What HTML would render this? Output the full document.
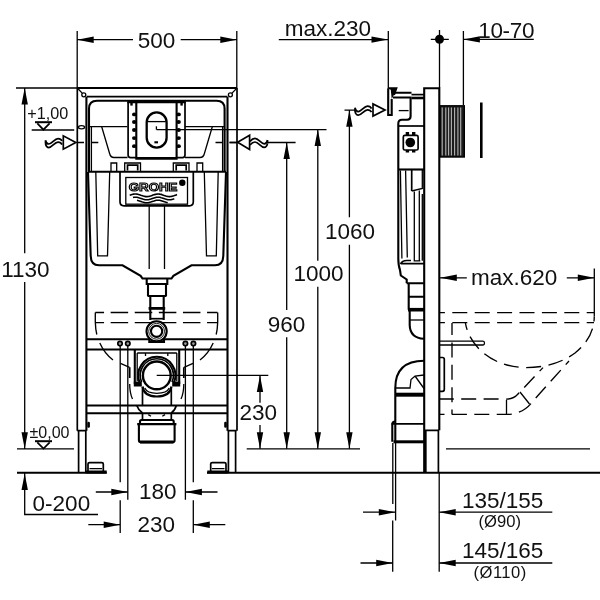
<!DOCTYPE html>
<html><head><meta charset="utf-8"><title>Rapid SL</title>
<style>
html,body{margin:0;padding:0;background:#fff;}
svg{display:block;will-change:transform}
.t{stroke:#000;stroke-width:1.3;fill:none}
.m{stroke:#000;stroke-width:1.7;fill:none}
.k{stroke:#000;stroke-width:2.1;fill:none}
  .d{stroke:#000;stroke-width:1.35;fill:none;stroke-dasharray:15 7.4;stroke-dashoffset:10.1}
.a{fill:#000;stroke:none}
text{font-family:"Liberation Sans",Arial,Helvetica,sans-serif;fill:#111}
</style></head><body>
<svg width="600" height="600" viewBox="0 0 600 600">
<rect width="600" height="600" fill="#fff"/>
<g id="dims-front">
<!-- 500 -->
<path class="t" d="M77.2,31V88M236.8,31V88M77.2,39.7H133M180.7,39.7H236.8"/>
<path class="a" d="M77.2,39.7l16.5,-3.2v6.4zM236.8,39.7l-16.5,-3.2v6.4z"/>
<!-- 1130 -->
<path class="t" d="M16,88H77M24.7,88V253.3M24.7,282V448.8M17,448.8H74"/>
<path class="a" d="M24.7,88l-3.2,16.5h6.4zM24.7,448.8l-3.2,-16.5h6.4z"/>
<!-- +1,00 level -->
<path class="t" d="M31.7,130H74.2"/><path d="M35,122.2H52" stroke="#000" stroke-width="2" fill="none"/><path class="m" d="M37.3,123.3L43.4,129.7L49.6,123.3"/>
<!-- +-0,00 level -->
<path d="M35,441.2H52" stroke="#000" stroke-width="2" fill="none"/><path class="m" d="M37.3,442.3L43.5,448.6L49.7,442.3"/>
<!-- water symbol left -->
<path class="m" d="M63.3,135.8V149.2L75.8,142.5Z"/>
<path class="m" d="M45.5,140.2C46.0,142.5 47.0,144.0 48.8,144.0C52.0,144.0 54.5,138.6 58.0,138.6C60.0,138.6 61.5,139.8 62.0,141.0M45.5,143.8C46.0,146.1 47.0,147.6 48.8,147.6C52.0,147.6 54.5,142.2 58.0,142.2C60.0,142.2 61.5,143.4 62.0,144.6M45.5,140.2V143.8"/>
<!-- water symbol right -->
<path class="m" d="M249.6,135.2V149.4L237.6,142.3Z"/>
<path class="m" d="M267.5,140.0C267.0,142.3 266.0,143.8 264.2,143.8C261.0,143.8 258.5,138.4 255.0,138.4C253.0,138.4 251.5,139.6 250.0,141.4M267.5,143.6C267.0,145.9 266.0,147.4 264.2,147.4C261.0,147.4 258.5,142.0 255.0,142.0C253.0,142.0 251.5,143.2 250.0,145.0M267.5,140.0V143.6"/>
<!-- 960 -->
<path class="t" d="M229.6,142.5H237M268,142.5H295.6M286.7,142.5V310M286.7,337.3V448.8"/>
<path class="a" d="M286.7,142.5l-3.2,16.5h6.4zM286.7,448.8l-3.2,-16.5h6.4z"/>
<!-- 1000 -->
<path class="t" d="M156.5,129.6H326.5M317.8,129.6V260.8M317.8,286.7V448.8"/>
<path class="a" d="M317.8,129.6l-3.2,16.5h6.4zM317.8,448.8l-3.2,-16.5h6.4z"/>
<!-- 1060 -->
<path class="t" d="M344.5,110.2H355M349.4,110.2V217.3M349.4,244.8V448.8"/>
<path class="a" d="M349.4,110.2l-3.2,16.5h6.4zM349.4,448.8l-3.2,-16.5h6.4z"/>
<!-- floor lines -->
<path class="t" d="M246.7,448.8H360"/>
<path class="k" d="M17,472.7H106.7M207,472.7H600"/>
<!-- 230 vertical -->
<path class="t" d="M260,375.4V402.7M260,425V448.8"/>
<path class="a" d="M260,375.4l-3.2,16.5h6.4zM260,448.8l-3.2,-16.5h6.4z"/>
<!-- 0-200 -->
<path class="t" d="M24.7,472.7V514.5H98"/>
<path class="a" d="M24.7,473.4l-3.2,16.5h6.4z"/>
<!-- 180 -->
<path class="t" d="M95.8,492H127.8M185.4,492H217.5"/>
<path class="a" d="M127.8,492l-16.5,-3.2v6.4zM185.4,492l16.5,-3.2v6.4z"/>
<!-- 230 -->
<path class="t" d="M88.3,524.7H120.2M193.3,524.7H225.3"/>
<path class="a" d="M120.2,524.7l-16.5,-3.2v6.4zM193.3,524.7l16.5,-3.2v6.4z"/>
</g>

<g id="front">
<!-- frame -->
<path class="k" d="M77,88H237"/>
<path class="m" d="M77.3,88V430.7M237,88V430.7"/>
<path class="k" d="M86.4,96.7V430.7M227.5,96.7V430.7"/>
<path class="m" d="M86.7,96.7H227.4"/>
<path class="t" d="M77.3,88L82.4,93.4M237,88L231.8,93.4"/>
<circle class="t" cx="83.8" cy="94.8" r="2"/><circle class="t" cx="230.4" cy="94.8" r="2"/>
<ellipse class="t" cx="81.5" cy="127.3" rx="3" ry="1.6"/>
<!-- lower legs -->
<path class="m" d="M78.6,430.7V472M85.8,430.7V472M77.3,430.7H86.7M227.4,430.7H236.7M228.4,430.7V472M235.6,430.7V472"/>
<!-- feet -->
<path class="m" d="M88,471V464Q88,462.6 89.5,462.6H101.8Q103.3,462.6 103.3,464V471M210.7,471V464Q210.7,462.6 212.2,462.6H224.5Q226,462.6 226,464V471"/>
<path class="t" d="M89.5,468.6H102M212,468.6H224.5"/>
<path d="M85.8,471.9H106.7M207.3,471.9H228.4" stroke="#000" stroke-width="3" fill="none"/>
<rect class="a" x="87.3" y="421.7" width="2.6" height="6" rx="1.2"/><rect class="a" x="224.2" y="421.7" width="2.6" height="6" rx="1.2"/>
<!-- upper housing -->
<path class="k" d="M89,172V108.8Q89,100.8 97,100.8H216.6Q224.6,100.8 224.6,108.8V172"/>
<path class="t" d="M91.4,126.7V171.7M222.6,126.7V171.7"/>
<path class="t" d="M89.4,126.7H127.5M185,126.7H224.6"/>
<path class="t" d="M101.7,126.7L109.6,153.5Q110.5,157.5 114,157.5H127.5M212.3,126.7L204.4,153.5Q203.5,157.5 200,157.5H185"/>
<path class="t" d="M77.3,142.5H84M91,142.5H98.3M215.5,142.5H223M229.5,142.5H237"/>
<!-- flush plate -->
<path class="m" d="M128.1,102V155Q128.1,157.6 130.6,157.6H136.2M185,102V155Q185,157.6 182.5,157.6H176.6"/>
<path d="M127.3,101.8H185.8" stroke="#000" stroke-width="2.8" fill="none"/>
<path class="k" d="M136.3,102V158.2M176.6,102V158.2"/>
<path d="M135.3,158.3H177.6" stroke="#000" stroke-width="2.8" fill="none"/>
<g class="a">
<ellipse cx="134.2" cy="114.4" rx="2.2" ry="1.9"/><ellipse cx="178.7" cy="114.4" rx="2.2" ry="1.9"/><ellipse cx="134.2" cy="122" rx="2.2" ry="1.9"/><ellipse cx="178.7" cy="122" rx="2.2" ry="1.9"/><ellipse cx="134.2" cy="130" rx="2.2" ry="1.9"/><ellipse cx="178.7" cy="130" rx="2.2" ry="1.9"/><ellipse cx="134.2" cy="138.1" rx="2.2" ry="1.9"/><ellipse cx="178.7" cy="138.1" rx="2.2" ry="1.9"/><ellipse cx="134.2" cy="146.2" rx="2.2" ry="1.9"/><ellipse cx="178.7" cy="146.2" rx="2.2" ry="1.9"/><rect x="130.3" y="103" width="2.4" height="2.6"/><rect x="180.4" y="103" width="2.4" height="2.6"/>
</g>
<rect x="146.7" y="112.4" width="19.9" height="35.2" rx="9.95" ry="9.95" fill="none" stroke="#000" stroke-width="2.3"/>
<path class="t" d="M147.5,121.6H165.8"/>
<path class="k" d="M154.4,142.3H158"/>
<path class="t" d="M156.4,126.3V129.6"/>
<!-- tabs -->
<path class="t" d="M111,171.7V163H116.7V171.7M124.7,171.7V163H140.5V171.7M173.3,171.7V163H189V171.7M197,171.7V163H202.7V171.7"/>
<path class="m" d="M127.5,170.5V165.2H137.7V170.5M176.2,170.5V165.2H186.2V170.5"/>
<!-- cistern -->
<path class="k" d="M88,171.7H226"/>
<path class="k" d="M88,172L90.7,256Q91,265.3 99,265.3H122.5L140.6,275.8L142.5,278.5H171.5L173.4,275.8L191.5,265.3H215Q223,265.3 223.3,256L226,172"/>
<path class="t" d="M95.8,172L97.7,255.8H107.5L109.7,172M204.3,172L206.5,255.8H216.3L218.2,172"/>
<path class="t" d="M149.2,206V269M164.5,206V269"/>
<!-- logo -->
<path class="m" d="M120,172V201.8Q120,205.8 124,205.8H189.3Q193.3,205.8 193.3,201.8V172"/>
<rect class="t" x="125.8" y="177.5" width="61.7" height="26.7"/>
<circle class="a" cx="182.3" cy="182.7" r="3.2"/>
<text x="128.8" y="191" font-size="11.8" font-weight="bold" textLength="48.6" lengthAdjust="spacingAndGlyphs" style="fill:#fff;stroke:#000;stroke-width:1.1">GROHE</text>
<path d="M129.7,195.3L130.5,195.0L131.3,194.7L132.1,194.5L132.9,194.3L133.7,194.1L134.5,194.0L135.3,194.0L136.1,194.0L136.9,194.1L137.7,194.3L138.5,194.5L139.3,194.7L140.1,195.0L140.9,195.3L141.7,195.5L142.5,195.8L143.3,196.1L144.1,196.3L144.9,196.4L145.7,196.6L146.5,196.6L147.3,196.6L148.1,196.5L148.9,196.4L149.7,196.2L150.5,195.9L151.3,195.7L152.1,195.4L152.9,195.1L153.8,194.8L154.6,194.6L155.4,194.4L156.2,194.2L157.0,194.1L157.8,194.0L158.6,194.0L159.4,194.1L160.2,194.2L161.0,194.4L161.8,194.6L162.6,194.9L163.4,195.2L164.2,195.5L165.0,195.7L165.8,196.0L166.6,196.2L167.4,196.4L168.2,196.5L169.0,196.6L169.8,196.6L170.6,196.5L171.4,196.4L172.2,196.2L173.0,196.0L173.8,195.8L174.6,195.5L175.4,195.2L176.2,194.9L177.0,194.6M133.0,197.5L133.8,197.3L134.6,197.2L135.4,197.2L136.2,197.2L137.0,197.3L137.9,197.5L138.7,197.7L139.5,198.0L140.3,198.2L141.1,198.5L141.9,198.8L142.7,199.1L143.5,199.3L144.3,199.5L145.1,199.7L146.0,199.8L146.8,199.8L147.6,199.8L148.4,199.7L149.2,199.5L150.0,199.3L150.8,199.1L151.6,198.8L152.4,198.5L153.2,198.2L154.1,197.9L154.9,197.7L155.7,197.5L156.5,197.3L157.3,197.2L158.1,197.2L158.9,197.2L159.7,197.3L160.5,197.5L161.3,197.7L162.2,197.9L163.0,198.2L163.8,198.5L164.6,198.8L165.4,199.1L166.2,199.3L167.0,199.5L167.8,199.7L168.6,199.8L169.4,199.8L170.3,199.8L171.1,199.7L171.9,199.5L172.7,199.3L173.5,199.1L174.3,198.8M137.0,200.3L137.8,200.5L138.6,200.7L139.4,200.9L140.2,201.2L141.0,201.5L141.8,201.8L142.7,202.1L143.5,202.3L144.3,202.5L145.1,202.7L145.9,202.8L146.7,202.8L147.5,202.8L148.3,202.7L149.1,202.5L149.9,202.3L150.7,202.1L151.5,201.8L152.3,201.5L153.2,201.2L154.0,201.0L154.8,200.7L155.6,200.5L156.4,200.3L157.2,200.2L158.0,200.2L158.8,200.2L159.6,200.3L160.4,200.5L161.2,200.7L162.0,200.9L162.9,201.2L163.7,201.5L164.5,201.8L165.3,202.0L166.1,202.3L166.9,202.5L167.7,202.7" fill="none" stroke="#000" stroke-width="1.6"/>
<!-- outlet -->
<path class="k" d="M146.7,278.5V284H167.3V278.5M148,284V296M166,284V296M147.5,296H166.5M150.3,296V320M163.7,296V320"/>
<path d="M148.6,308.4H165.2" stroke="#000" stroke-width="2.8" fill="none"/>
<path class="m" d="M150,318.7H164"/>
<!-- dashed bowl -->
<path class="t" d="M95.3,312.5H217.5M95.3,322.6H217.5" stroke-dasharray="17.5 6.6" stroke-dashoffset="8.75" style="stroke-width:1.35"/>
<path class="t" style="stroke-width:1.35" d="M95.3,312.5V322Q95.5,329 96.8,334.5M99.8,343Q104.5,353.5 113,360M217.7,312.5V322Q217.5,329 216.2,334.5M213.2,343Q208.5,353.5 200,360"/>
<!-- crossbar upper -->
<path class="k" d="M86.7,339.2H227.4M86.7,349.5H227.4"/>
<!-- flush pipe circle -->
<circle cx="156.6" cy="331.3" r="10.1" class="k" style="fill:#fff"/>
<circle cx="156.6" cy="331.3" r="7.9" class="t" style="stroke-width:.9"/>
<circle cx="156.6" cy="331.3" r="5.6" class="k"/>
<g style="fill:#999" class="m"><circle cx="120" cy="343.6" r="2.2"/><circle cx="127.8" cy="343.6" r="2.2"/><circle cx="185.4" cy="343.6" r="2.2"/><circle cx="193.4" cy="343.6" r="2.2"/></g>
<path class="t" d="M120.2,346V482.3M120.2,500.3V533M127.8,346V499.8M185.4,346V499.8M193.3,346V482.3M193.3,500.3V533"/>
<path class="k" d="M149.3,338.5V342H164V338.5"/>
<!-- waste bracket -->
<path class="k" d="M134.8,349.5V384M179.2,349.5V384"/>
<path class="t" d="M137.2,353V381M176.8,353V381M137.2,353H176.8M145.5,353V356M167.8,353V356"/>
<circle cx="156.8" cy="375.4" r="19" style="fill:#fff;stroke:none"/>
<path class="k" d="M139.6,382.5A18.6,18.6 0 1 1 174.0,382.5"/>
<path class="m" d="M141.6,382A16.6,16.6 0 1 1 172.0,382"/>
<circle cx="156.8" cy="375.4" r="13.9" class="k" style="stroke-width:2.4"/>
<path class="a" d="M133.8,381.5H141.8V386.6H133.8ZM172.2,381.5H180.2V386.6H172.2Z"/>
<path class="k" d="M142.6,386.5Q144,396.5 156.8,396.5Q170,396.5 171.4,386.5"/>
<path class="t" d="M144.8,388Q147,393.3 156.8,393.3Q167,393.3 169.2,388"/>
<path class="t" d="M156.7,375.4H268.3"/>
<!-- pipe down -->
<path class="m" d="M142.5,387V405.5M171.3,387V405.5M142.5,413.5V420M171.3,413.5V420"/>
<path class="k" d="M86.7,405.5H227.4M86.7,413.3H227.4"/>
<path class="m" d="M136.9,405.8Q138.5,410.5 142.5,413M176.2,405.8Q175,410.5 171.3,413"/>
<path class="t" d="M148.3,414.6L151,416.3M162.3,416.3L165,414.6"/>
<path class="k" d="M140,424V421.5Q140,420 141.5,420H172.2Q173.7,420 173.7,421.5V424"/>
<path d="M137.2,424.2H176.4" stroke="#000" stroke-width="2.2" fill="none"/>
<path class="k" d="M138.9,424.5V440.3Q138.9,442.2 140.8,442.2H172.7Q174.6,442.2 174.6,440.3V424.5"/>
<path d="M140,442H173.5" stroke="#000" stroke-width="2.8" fill="none"/>
<!-- bracket side details -->
<path class="t" d="M120.5,363.3L129.5,367.3M193,363.3L184,367.3"/>
<path class="m" d="M129.7,367.3V378M183.8,367.3V378"/>
<path class="t" d="M129.7,384Q129.7,393 132.5,399M183.8,384Q183.8,393 181,399"/>
</g>

<g id="side">
<!-- frame profile -->
<path class="k" d="M424.2,472V88.2H439.3V430.3"/>
<path class="m" d="M424.2,430.3H439.3M425.8,430.3V472M438.4,430.3V472"/>
<!-- angle valve -->
<path class="k" d="M388.2,88.2V115H391.7V99M388.2,88.2H396.3L394,95"/>
<path class="a" d="M389.5,88.2H396.3L393.6,95.5L391.7,99L390.8,90Z"/>
<path class="k" d="M393,92.8H411.5M393,97.5H411.5"/>
<path class="m" d="M411.5,94.6H424"/>
<path d="M411.5,98H424" stroke="#000" stroke-width="2.6" fill="none"/>
<!-- tank housing -->
<path class="k" d="M410.6,97.5V116.3Q410.6,119.7 407.2,119.7H402Q398.3,119.7 398.3,123.5V259"/>
<path class="t" d="M398.7,110.6H408.6"/>
<path class="m" d="M398.3,126H424"/>
<!-- valve square -->
<rect class="m" x="403.3" y="135.4" width="14.8" height="14.6" rx="1.5"/>
<path class="a" d="M405.7,132h3.4v3.4h-3.4zM412,132h3.4v3.4h-3.4zM405.7,150h3.4v2.6h-3.4zM412,150h3.4v2.6h-3.4z"/>
<circle class="a" cx="410.3" cy="142.5" r="4.8"/>
<!-- cistern side -->
<path class="k" d="M398.3,169.5H424"/>
<path class="t" d="M400.4,170.5L401.9,258.5M405.6,170.5L407.3,257.5M414.3,191.5V260.8H420.3M419.3,190.5V260.8M422.3,170V188.5L411.7,191M422.3,194V260.8"/>
<path class="m" d="M411.7,170V191"/>
<!-- cistern bottom -->
<path class="k" d="M398.3,259Q398.4,266 400,270L400.8,275.5L406.7,279.5V283.3"/>
<path class="m" d="M400.5,264Q402,260.5 407,260.5H411M400.5,263.6H424"/>
<!-- outlet pipe side -->
<path class="k" d="M406.7,283.3H424M408.7,283.3V309.7M408.7,296.7H424"/>
<path d="M408,309.7H424" stroke="#000" stroke-width="3.6" fill="none"/>
<path class="k" d="M409.7,309.7V325Q410,338 424,338.8"/>
<path class="t" d="M409.7,320H424"/>
<!-- waste elbow -->
<path class="k" d="M424,360.8Q395.3,361 395.3,388V442.5"/>
<path d="M395,394.7H424" stroke="#000" stroke-width="4" fill="none"/>
<path class="t" d="M396,388H410L411,379.5L415,376L424,375M415,376L424,388.5"/>
<path class="k" d="M395.3,421.5Q392.3,421.5 392.3,424.5V441.8"/>
<path class="m" d="M391.5,423.8H424"/>
<path d="M393.5,441.8H424" stroke="#000" stroke-width="3" fill="none"/>
<!-- thread -->
<rect x="440" y="105.8" width="24.3" height="51.2" fill="#1c1c1c" stroke="#000" stroke-width="1.4"/>
<path d="M442.2,107.5V155.5M445.8,107.5V155.5M448.6,107.5V155.5M451.4,107.5V155.5M454.6,107.5V155.5M457.9,107.5V155.5M460.7,107.5V155.5" stroke="#b4b4b4" stroke-width="1.1" fill="none"/>
<!-- flush plate side -->
<path d="M481.3,102.5V158" stroke="#000" stroke-width="2.6" fill="none"/>
<!-- bracket right -->
<path class="m" d="M440,357.5H442.5Q444.3,357.5 444.3,359.5V389.3Q444.3,391.3 442.5,391.3H440"/>
<!-- seat hinge -->
<path class="t" d="M440,341.2H483Q484.5,341.2 484.5,343.1Q484.5,345 483,345H440"/>
<!-- bowl dashed -->
<path class="d" d="M440,312.6H594.3M440,322.6H594"/>
<path class="d" d="M594.3,316.5Q594,338 575,353Q555,367.6 526,367.6Q498,367 480,350Q468,338 465.4,323"/>
<path class="d" style="stroke-dashoffset:3" d="M452,323V414.4"/>
<path class="d" d="M543,367.6L518,394Q513,399.6 505,399H440M569,361L533,401Q524,413.7 508,414.4H440"/>
<path class="t" d="M520,392L529.5,404M506.5,400V414"/>
</g>

<g id="dims-side">
<!-- max.230 -->
<path class="t" d="M278.8,39.6H388M388.3,31V88"/>
<path class="a" d="M388,39.6l-16.5,-3.2v6.4z"/>
<!-- water symbol side -->
<path class="m" d="M373,104V116L385,110Z"/>
<path class="m" d="M355.0,107.8C355.5,110.1 356.5,111.6 358.3,111.6C361.5,111.6 364.0,106.2 367.5,106.2C369.5,106.2 371.0,107.4 371.5,108.6M355.0,111.4C355.5,113.7 356.5,115.2 358.3,115.2C361.5,115.2 364.0,109.8 367.5,109.8C369.5,109.8 371.0,111.0 371.5,112.2M355.0,107.8V111.4"/>
<!-- centre symbol -->
<circle class="a" cx="439.5" cy="39.3" r="4.5"/>
<path class="t" d="M430.8,39.3H448.8M439.5,30V88"/>
<!-- 10-70 -->
<path class="t" d="M463.4,31V105M463.4,39.4H533.8"/>
<path class="a" d="M463.4,39.4l16.5,-3.2v6.4z"/>
<!-- max.620 -->
<path class="t" d="M440,277.8H466.8M566.8,277.8H594.3M594.3,268.4V316.6"/>
<path class="a" d="M440.3,277.8l16.5,-3.2v6.4zM594.3,277.8l-16.5,-3.2v6.4z"/>
<!-- floor thin -->
<path class="t" d="M446,448.8H590"/>
<!-- bottom dims -->
<path class="t" d="M392.8,443V504M395.6,443V520.5M392.7,520.5V571.8M439.2,472V571.8"/>
<path class="t" d="M363,512.2H395.3M439.2,512.2H552.3M360.5,563H392.7M439.2,563H552.3"/>
<path class="a" d="M395.3,512.2l-16.5,-3.2v6.4zM439.2,512.2l16.5,-3.2v6.4zM392.7,563l-16.5,-3.2v6.4zM439.2,563l16.5,-3.2v6.4z"/>
</g>

<g id="labels" font-size="22.5">
<text x="137.8" y="47.7">500</text>
<text x="1.2" y="276.6">1130</text>
<text x="267.8" y="332">960</text>
<text x="293.5" y="281.3">1000</text>
<text x="324.9" y="238.8">1060</text>
<text x="239.6" y="420.1">230</text>
<text x="138.9" y="498.8">180</text>
<text x="137.6" y="531.9">230</text>
<text x="32.6" y="510.8">0-200</text>
<text x="284.8" y="35.6">max.230</text>
<text x="478.2" y="37.6" letter-spacing="-.3">10-70</text>
<text x="471" y="285.4">max.620</text>
<text x="462" y="507.6">135/155</text>
<text x="462" y="558.4">145/165</text>
<text x="27.3" y="118.8" font-size="16.2">+1,00</text>
<text x="29.5" y="437.5" font-size="16">±0,00</text>
<text x="478.6" y="526.9" font-size="16.6">(Ø90)</text>
<text x="473.6" y="577.6" font-size="16.6" letter-spacing=".45">(Ø110)</text>
</g>

</svg>
</body></html>
